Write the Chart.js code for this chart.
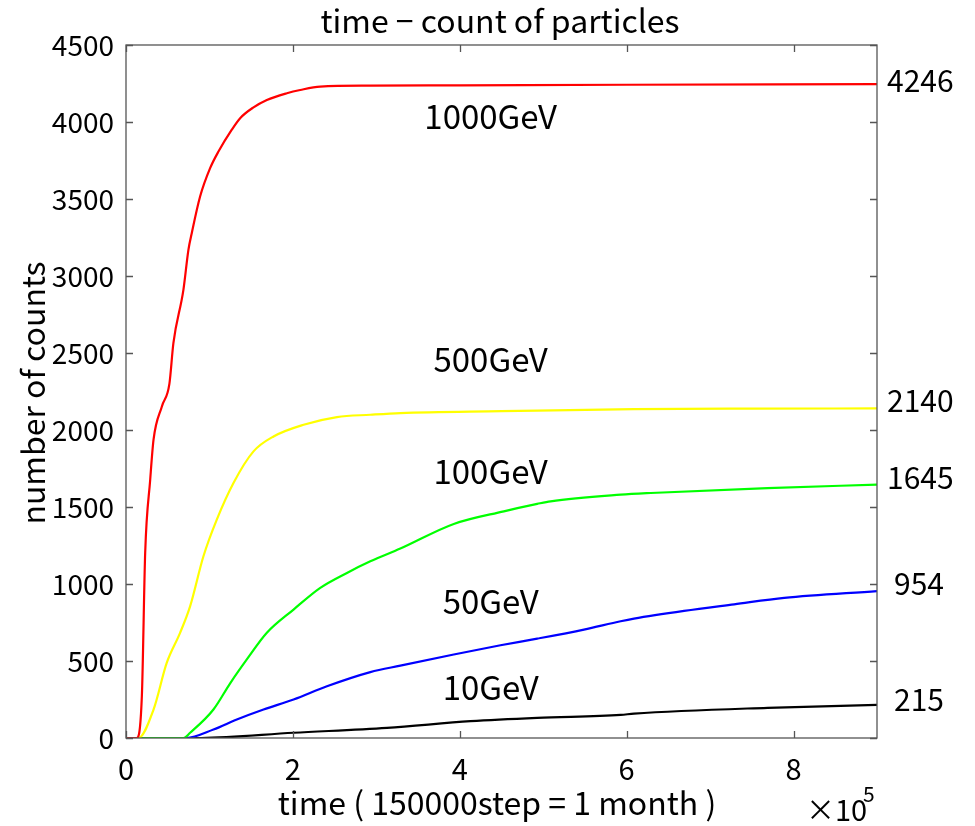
<!DOCTYPE html>
<html>
<head>
<meta charset="utf-8">
<script src="https://cdn.jsdelivr.net/npm/chart.js@4.4.0/dist/chart.umd.min.js"></script>
<style>
  html,body{margin:0;padding:0;background:#fff;}
  #wrap{width:975px;height:826px;position:relative;}
</style>
</head>
<body>
<div id="wrap"><canvas id="c" width="975" height="826"></canvas></div>
<script>
// --- data (time in units of 1e5 steps) ---
const t1000 = [0, 0.128, 0.19, 0.23, 0.29, 0.33, 0.43, 0.52, 0.568, 0.688, 0.748, 0.788, 0.888, 1.008, 1.108, 1.268, 1.368, 1.528, 1.688, 1.928, 2.088, 2.328, 2.928, 4, 6, 9];
const v1000 = [0, 0, 271, 1204, 1677, 1937, 2153, 2300, 2564, 2910, 3170, 3278, 3516, 3700, 3808, 3950, 4025, 4095, 4143, 4187, 4208, 4230, 4236, 4238, 4242, 4246];

const t500 = [0, 0.148, 0.33, 0.488, 0.648, 0.768, 0.928, 1.088, 1.288, 1.528, 1.768, 2.128, 2.528, 2.928, 3.288, 4.5, 6.088, 7.5, 9];
const v500 = [0, 0, 185, 488, 683, 855, 1180, 1418, 1656, 1861, 1958, 2034, 2084, 2099, 2110, 2122, 2136, 2139, 2140];

const t100 = [0, 0.688, 0.768, 1.048, 1.248, 1.448, 1.688, 2.008, 2.328, 2.648, 2.928, 3.288, 3.928, 4.528, 4.928, 5.088, 5.928, 6.288, 7.688, 9];
const v100 = [0, 0, 34, 185, 355, 510, 683, 834, 975, 1072, 1147, 1230, 1390, 1472, 1520, 1537, 1580, 1591, 1623, 1645];

const t50 = [0, 0.72, 1.048, 1.328, 1.648, 2.008, 2.408, 2.928, 3.288, 3.928, 4.488, 4.928, 5.488, 5.928, 6.088, 6.688, 7.288, 7.888, 9];
const v50 = [0, 0, 55, 120, 185, 250, 336, 428, 470, 542, 602, 645, 704, 758, 775, 825, 868, 910, 954];

const t10 = [0, 0.9, 2.008, 3.128, 4.128, 4.928, 5.928, 6.088, 7.688, 9];
const v10 = [0, 0, 34, 66, 109, 131, 150, 158, 196, 215];

const seriesNames = ['1000GeV', '500GeV', '100GeV', '50GeV', '10GeV'];
const seriesColors = ['#ff0000', '#ffff00', '#00ff00', '#0000ff', '#000000'];
const seriesT = [t1000, t500, t100, t50, t10];
const seriesV = [v1000, v500, v100, v50, v10];

// labels inside the plot (data coords)
const nameX = [4.37, 4.37, 4.37, 4.37, 4.37];
const nameY = [4033, 2456, 1729, 886, 328];
// end values shown at right
const endLabels = ['4246', '2140', '1645', '954', '215'];
const endLabelY = [4266, 2190, 1690, 1005, 248];
const endLabelDx = [10, 10, 10, 17, 17];

const xTicks = [0, 2, 4, 6, 8];
const yTicks = [0, 500, 1000, 1500, 2000, 2500, 3000, 3500, 4000, 4500];

const FONT = '"Noto Sans CJK JP", "Noto Sans", sans-serif';
const AXC = '#555';

const datasets = seriesNames.map((n, k) => ({
  label: n,
  data: seriesT[k].map((t, i) => ({x: t * 1e5, y: seriesV[k][i]})),
  borderColor: seriesColors[k],
  borderWidth: 2.2,
  pointRadius: 0,
  cubicInterpolationMode: 'monotone',
  fill: false
}));

// box, inward ticks and texts
const decor = {
  id: 'decor',
  afterDraw(chart){
    const ctx = chart.ctx, ca = chart.chartArea;
    const xs = chart.scales.x, ys = chart.scales.y;
    ctx.save();
    ctx.strokeStyle = AXC;
    ctx.lineWidth = 1.3;
    ctx.strokeRect(ca.left, ca.top, ca.right - ca.left, ca.bottom - ca.top);
    ctx.beginPath();
    xs.ticks.forEach(tk => {
      const px = Math.round(xs.getPixelForValue(tk.value)) + 0.5;
      ctx.moveTo(px, ca.bottom); ctx.lineTo(px, ca.bottom - 7);
      ctx.moveTo(px, ca.top); ctx.lineTo(px, ca.top + 7);
    });
    ys.ticks.forEach(tk => {
      const py = Math.round(ys.getPixelForValue(tk.value)) + 0.5;
      ctx.moveTo(ca.left, py); ctx.lineTo(ca.left + 7, py);
      ctx.moveTo(ca.right, py); ctx.lineTo(ca.right - 7, py);
    });
    ctx.stroke();

    ctx.fillStyle = '#000';
    ctx.textBaseline = 'middle';
    // title
    ctx.font = '32px ' + FONT;
    ctx.textAlign = 'center';
    ctx.fillText('time − count of particles', 500, 21);
    // x title
    ctx.fillText('time ( 150000step = 1 month )', 497, 803);
    // y title
    ctx.save();
    ctx.translate(33, 393);
    ctx.rotate(-Math.PI / 2);
    ctx.fillText('number of counts', 0, 0);
    ctx.restore();
    // x10^5
    ctx.textAlign = 'left';
    ctx.font = '29px ' + FONT;
    ctx.fillText('×10', 806, 810);
    ctx.font = '21px ' + FONT;
    ctx.fillText('5', 863, 794);

    // series names
    ctx.font = '33px ' + FONT;
    ctx.textAlign = 'center';
    seriesNames.forEach((n, k) => {
      ctx.fillText(n, xs.getPixelForValue(nameX[k] * 1e5), ys.getPixelForValue(nameY[k]));
    });
    // end values
    ctx.font = '30px ' + FONT;
    ctx.textAlign = 'left';
    endLabels.forEach((s, k) => {
      ctx.fillText(s, xs.getPixelForValue(9e5) + endLabelDx[k], ys.getPixelForValue(endLabelY[k]));
    });
    ctx.restore();
  }
};

new Chart(document.getElementById('c'), {
  type: 'line',
  data: {datasets},
  options: {
    responsive: false,
    animation: false,
    layout: {padding: {left: 0, right: 98, top: 45, bottom: 0}},
    plugins: {legend: {display: false}, title: {display: false}, tooltip: {enabled: false}},
    scales: {
      x: {
        type: 'linear', min: 0, max: 9e5,
        afterFit: s => { s.height = 88; },
        afterBuildTicks: s => { s.ticks = xTicks.map(v => ({value: v * 1e5})); },
        grid: {display: false, drawTicks: false},
        border: {display: false},
        ticks: {
          padding: 14,
          color: '#000', font: {family: FONT, size: 29},
          callback: v => String(v / 1e5)
        }
      },
      y: {
        type: 'linear', min: 0, max: 4500,
        afterFit: s => { s.width = 126; },
        afterBuildTicks: s => { s.ticks = yTicks.map(v => ({value: v})); },
        grid: {display: false, drawTicks: false},
        border: {display: false},
        ticks: {padding: 12, color: '#000', font: {family: FONT, size: 28}, callback: v => String(v)}
      }
    }
  },
  plugins: [decor]
});
</script>
</body>
</html>
